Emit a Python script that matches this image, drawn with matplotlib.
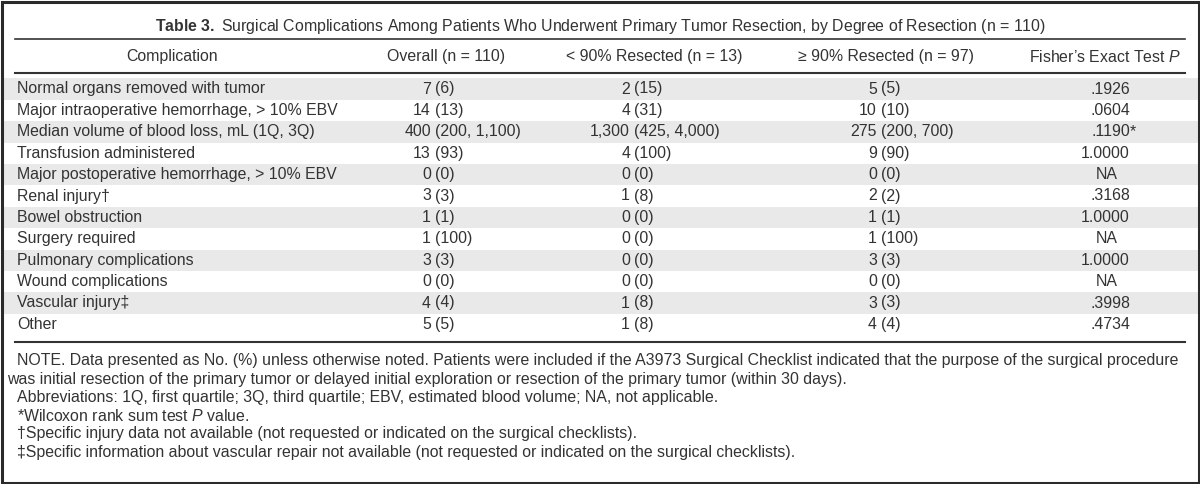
import matplotlib
matplotlib.use("Agg")
import matplotlib.pyplot as plt
from matplotlib.patches import Rectangle

plt.rcParams['font.family'] = ['Liberation Sans', 'DejaVu Sans']
plt.rcParams['mathtext.fontset'] = 'custom'
plt.rcParams['mathtext.rm'] = 'Liberation Sans'
plt.rcParams['mathtext.it'] = 'Liberation Sans:italic'
plt.rcParams['mathtext.bf'] = 'Liberation Sans:bold'

# ---- table content ----
title = (r"$\mathbf{Table\ 3.}$ Surgical Complications Among Patients Who Underwent "
         "Primary Tumor Resection, by Degree of Resection (n = 110)")
headers = ["Complication", "Overall (n = 110)", "< 90% Resected (n = 13)",
           "≥ 90% Resected (n = 97)", r"Fisher’s Exact Test $\mathit{P}$"]

complications = [
    "Normal organs removed with tumor",
    "Major intraoperative hemorrhage, > 10% EBV",
    "Median volume of blood loss, mL (1Q, 3Q)",
    "Transfusion administered",
    "Major postoperative hemorrhage, > 10% EBV",
    "Renal injury†",
    "Bowel obstruction",
    "Surgery required",
    "Pulmonary complications",
    "Wound complications",
    "Vascular injury‡",
    "Other",
]
overall = ["7 (6)", "14 (13)", "400 (200, 1,100)", "13 (93)", "0 (0)", "3 (3)",
           "1 (1)", "1 (100)", "3 (3)", "0 (0)", "4 (4)", "5 (5)"]
under_90 = ["2 (15)", "4 (31)", "1,300 (425, 4,000)", "4 (100)", "0 (0)", "1 (8)",
            "0 (0)", "0 (0)", "0 (0)", "0 (0)", "1 (8)", "1 (8)"]
over_90 = ["5 (5)", "10 (10)", "275 (200, 700)", "9 (90)", "0 (0)", "2 (2)",
           "1 (1)", "1 (100)", "3 (3)", "0 (0)", "3 (3)", "4 (4)"]
p_values = [".1926", ".0604", ".1190*", "1.0000", "NA", ".3168",
            "1.0000", "NA", "1.0000", "NA", ".3998", ".4734"]

notes = [
    "NOTE. Data presented as No. (%) unless otherwise noted. Patients were included if the "
    "A3973 Surgical Checklist indicated that the purpose of the surgical procedure",
    "was initial resection of the primary tumor or delayed initial exploration or resection "
    "of the primary tumor (within 30 days).",
    "Abbreviations: 1Q, first quartile; 3Q, third quartile; EBV, estimated blood volume; "
    "NA, not applicable.",
    r"*Wilcoxon rank sum test $\mathit{P}$ value.",
    "†Specific injury data not available (not requested or indicated on the surgical checklists).",
    "‡Specific information about vascular repair not available (not requested or indicated "
    "on the surgical checklists).",
]

# ---- layout (pixel coordinates) ----
W, H = 1200, 484
TXT = '#333333'
FS = 11.4
fig = plt.figure(figsize=(12, 4.84), dpi=100)
ax = fig.add_axes([0, 0, 1, 1])
ax.set_xlim(0, W)
ax.set_ylim(H, 0)
ax.axis('off')

x0, x1 = 15, 1185
y_title, y_tline = 26, 39
y_head, y_hline = 57, 73
row0, pitch = 89, 21.4
y_bline = 342
note0, note_pitch = 361, 18.2

ax.text(W / 2, y_title, title, ha='center', va='center', fontsize=FS, color=TXT)
ax.plot([x0, x1], [y_tline, y_tline], color='#333333', lw=1.2)

head_x = [172, 446, 654, 886, 1105]
for x, h in zip(head_x, headers):
    ax.text(x, y_head, h, ha='center', va='center', fontsize=FS, color=TXT)
ax.plot([x0, x1], [y_hline, y_hline], color='#333333', lw=1.5)

# shaded bands
for i in range(len(complications)):
    yc = row0 + i * pitch
    if i % 2 == 0:
        ax.add_patch(Rectangle((2, yc - pitch / 2), W - 4, pitch,
                               facecolor='#e9e9e9', edgecolor='none', zorder=0))

def split_cell(x, y, s):
    head, tail = s.split(' ', 1)
    ax.text(x, y, head, ha='right', va='center', fontsize=FS, color=TXT)
    ax.text(x + 4, y, tail, ha='left', va='center', fontsize=FS, color=TXT)

for i, name in enumerate(complications):
    yc = row0 + i * pitch
    ax.text(17, yc, name, ha='left', va='center', fontsize=FS, color=TXT)
    split_cell(431, yc, overall[i])
    split_cell(630, yc, under_90[i])
    split_cell(877, yc, over_90[i])
    p = p_values[i]
    if p == 'NA':
        ax.text(1107, yc, p, ha='center', va='center', fontsize=FS, color=TXT)
    else:
        ax.text(1130, yc, p.rstrip('*'), ha='right', va='center', fontsize=FS, color=TXT)
        if p.endswith('*'):
            ax.text(1130, yc, '*', ha='left', va='center', fontsize=FS, color=TXT)

ax.plot([x0, x1], [y_bline, y_bline], color='#333333', lw=1.5)

for k, line in enumerate(notes):
    nx = 7 if k == 1 else 17
    ax.text(nx, note0 + k * note_pitch, line, ha='left', va='center',
            fontsize=FS, color=TXT)

# outer frame
ax.add_patch(Rectangle((1.5, 1.5), W - 3, H - 3, facecolor='none',
                       edgecolor='#2a2a2a', lw=2.2, zorder=5))

fig.savefig('out.png', dpi=100)
